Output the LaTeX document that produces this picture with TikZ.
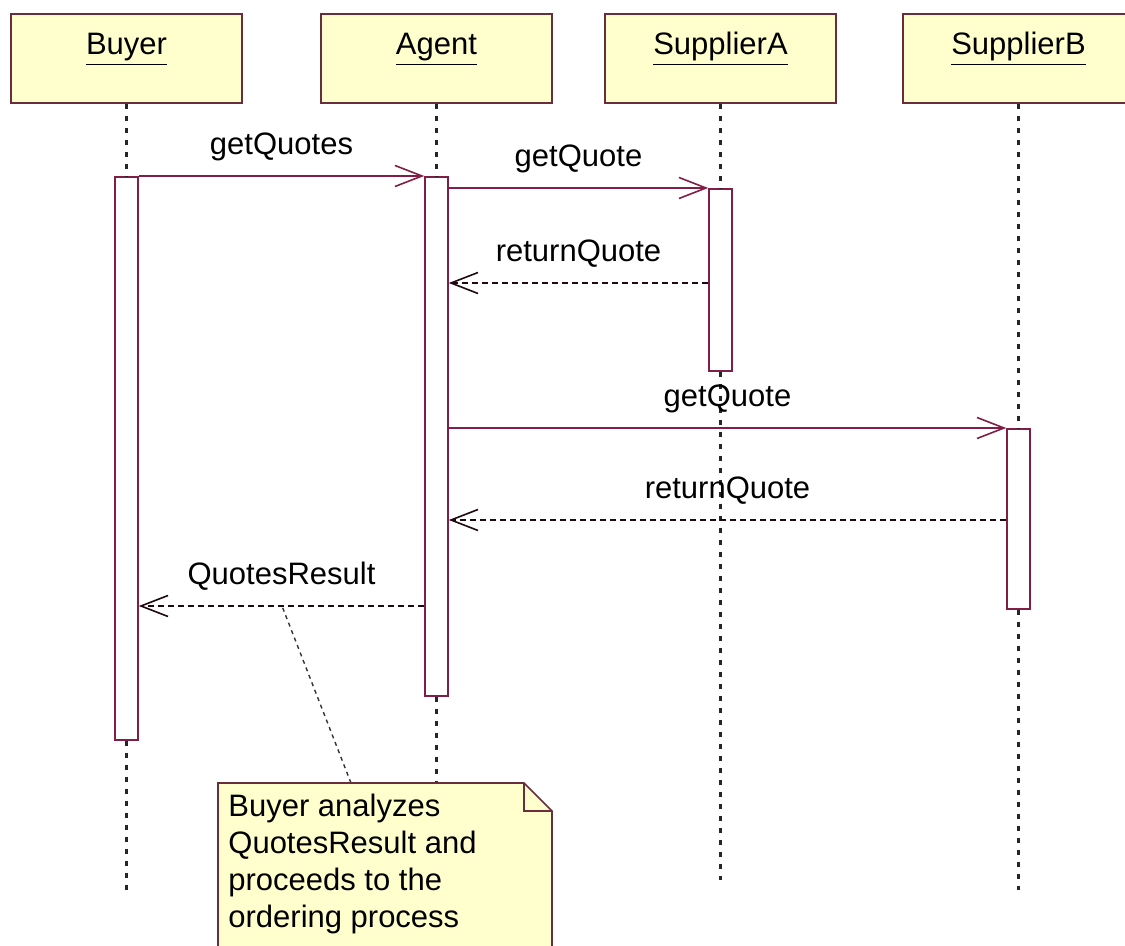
\documentclass[tikz,border=0pt]{standalone}
\usepackage{fontspec}
\setmainfont{Liberation Sans}
\usetikzlibrary{arrows.meta,positioning}
\definecolor{umlline}{RGB}{128,30,70}
\definecolor{umlborder}{RGB}{105,45,60}
\definecolor{umlfill}{RGB}{255,255,205}
\tikzset{
    object/.style={
           rectangle,
           draw=umlborder, line width=0.9pt,
           fill=umlfill,
           minimum width=115.5pt,
           minimum height=44.5pt,
           text height=12pt, text depth=15.5pt,
           anchor=north
           },
    activation/.style={
           rectangle,
           draw=umlline, line width=0.8pt,
           fill=white,
           minimum width=11.5pt,
           inner sep=0pt,
           anchor=north
           },
    lifeline/.style={
           draw=black!85, line width=1.1pt,
           dash pattern=on 2.5pt off 3.5pt
           },
    call/.style={
           draw=umlline, line width=0.8pt,
           -{Straight Barb[length=13.5pt,width=10.5pt]}
           },
    reply/.style={
           call,
           draw=black!75!umlline,
           dash pattern=on 3pt off 2pt
           },
    msgtext/.style={
           text height=11pt, text depth=3.5pt,
           above=3.5pt
           },
    notebox/.style={
           draw=umlborder, line width=0.8pt,
           fill=umlfill
           },
    notelink/.style={
           draw=black!80, line width=0.7pt,
           dash pattern=on 2pt off 2pt
           }
}

\begin{document}
\begin{tikzpicture}[x=0.5pt, y=-0.5pt, font=\fontsize{15.5}{18.5}\selectfont]
\useasboundingbox (0,0) rectangle (1125,946);
   % objects
   \node[object] (buyer) at (126.5,13)  {\underline{Buyer}};
   \node[object] (agent) at (436.5,13)  {\underline{Agent}};
   \node[object] (supA)  at (720.5,13)  {\underline{SupplierA}};
   \node[object] (supB)  at (1018.5,13) {\underline{SupplierB}};
   % ends of the lifelines
   \coordinate (buyerEnd) at (126.5,890);
   \coordinate (agentEnd) at (436.5,783);
   \coordinate (supAEnd)  at (720.5,880);
   \coordinate (supBEnd)  at (1018.5,890);
   % activations
   \node[activation, minimum height=281.5pt] (actBuyer) at (126.5,176)  {};
   \node[activation, minimum height=259.5pt] (actAgent) at (436.5,176)  {};
   \node[activation, minimum height=91pt]    (actA)     at (720.5,188)  {};
   \node[activation, minimum height=90pt]    (actB)     at (1018.5,428) {};
   \path[lifeline]
    (buyer) -- (actBuyer) (actBuyer) -- (buyerEnd)
    (agent) -- (actAgent) (actAgent) -- (agentEnd)
    (supA) -- (actA) (actA) -- (supAEnd)
    (supB) -- (actB) (actB) -- (supBEnd);
   \path
    (actBuyer.north east) edge[call] node[msgtext] {getQuotes} (actAgent.north west)
    (actAgent.east |- actA.north) edge[call] node[msgtext] {getQuote} (actA.north west)
    (actA.west |- 0,283) edge[reply] node[msgtext] {returnQuote} (actAgent.east |- 0,283)
    (actAgent.east |- actB.north) edge[call] node[msgtext] {getQuote} (actB.north west)
    (actB.west |- 0,520) edge[reply] node[msgtext] {returnQuote} (actAgent.east |- 0,520)
    (actAgent.west |- 0,606) edge[reply] node[msgtext] {QuotesResult} (actBuyer.east |- 0,606);
   % note
   \coordinate (noteLink) at (351,783);
   \coordinate (msgLink)  at (282,606);
   \draw[notelink] (noteLink) -- (msgLink);
   \draw[notebox] (218,783) -- (524,783) -- (552,811) -- (552,960) -- (218,960) -- cycle;
   \draw[umlborder, line width=0.8pt] (524,783) -- (524,811) -- (552,811);
   \node[anchor=north west, align=left, inner sep=0pt] (note) at (228,794)
     {Buyer analyzes\\QuotesResult and\\proceeds to the\\ordering process};
\end{tikzpicture}
\end{document}
